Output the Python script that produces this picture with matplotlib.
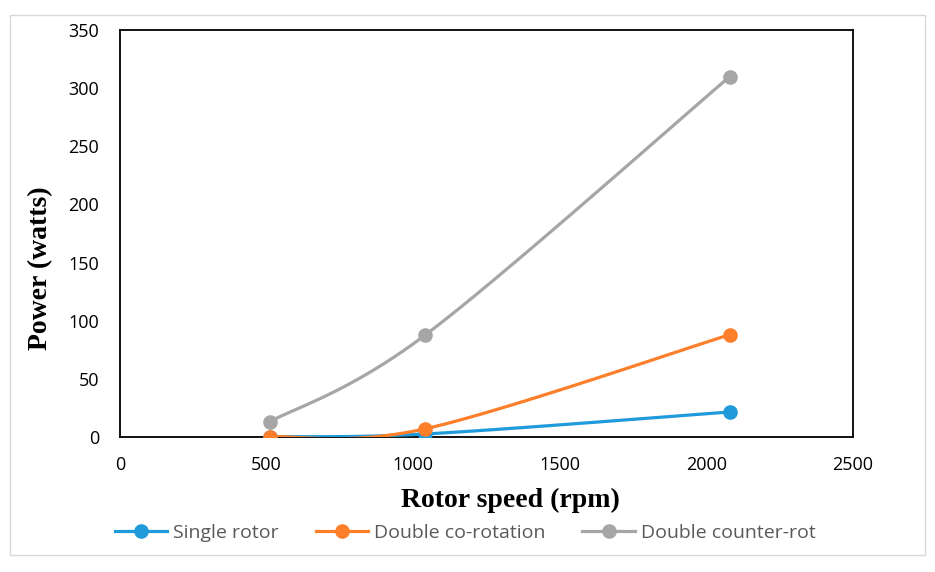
import numpy as np
import matplotlib
matplotlib.use("Agg")
import matplotlib.pyplot as plt
from matplotlib.patches import Rectangle

rpm = [510, 1040, 2080]
single_rotor = [0.3, 2.6, 21.5]
double_co = [0.3, 7.0, 88.0]
double_counter = [13.0, 87.5, 310.0]

series_names = ["Single rotor", "Double co-rotation", "Double counter-rot"]
colors = ["#1f9bdb", "#fd7f2a", "#a6a6a6"]
x_ticks = [0, 500, 1000, 1500, 2000, 2500]
y_ticks = [0, 50, 100, 150, 200, 250, 300, 350]


def smooth(x, y, n=40):
    # Excel-style smoothing (Catmull-Rom Bezier)
    x = np.asarray(x, float)
    y = np.asarray(y, float)
    P = np.column_stack([x, y])
    pts = []
    for i in range(len(P) - 1):
        p0 = P[i - 1] if i > 0 else P[i]
        p1 = P[i]
        p2 = P[i + 1]
        p3 = P[i + 2] if i + 2 < len(P) else P[i + 1]
        c1 = p1 + (p2 - p0) / 6.0
        c2 = p2 - (p3 - p1) / 6.0
        t = np.linspace(0, 1, n)[:, None]
        b = ((1 - t) ** 3) * p1 + 3 * ((1 - t) ** 2) * t * c1 + 3 * (1 - t) * t ** 2 * c2 + t ** 3 * p2
        pts.append(b if i == 0 else b[1:])
    B = np.vstack(pts)
    return B[:, 0], B[:, 1]


W, H = 935, 572
fig = plt.figure(figsize=(W / 100, H / 100), dpi=100)
fig.patches.append(Rectangle((10 / W, 1 - 555 / H), 915 / W, 540 / H,
                             transform=fig.transFigure, fill=False,
                             edgecolor="#d9d9d9", linewidth=1.0))
ax = fig.add_axes([120 / W, 1 - 437 / H, 733 / W, 407 / H])

tick_font = "Open Sans"
for vals, name, c in zip([single_rotor, double_co, double_counter], series_names, colors):
    xs, ys = smooth(rpm, vals)
    ax.plot(xs, ys, color=c, linewidth=2.3, solid_capstyle="round", zorder=3)
    ax.plot(rpm, vals, linestyle="none", marker="o", markersize=9.5, color=c, zorder=4)
    ax.plot([], [], color=c, linewidth=2.3, marker="o", markersize=9.5, label=name)

ax.set_xlim(0, 2500)
ax.set_ylim(0, 350)
ax.set_xticks(x_ticks)
ax.set_yticks(y_ticks)
ax.tick_params(length=0, labelsize=13, labelcolor="#000000")
ax.tick_params(axis="y", pad=15)
ax.tick_params(axis="x", pad=14)
for lab in ax.get_xticklabels() + ax.get_yticklabels():
    lab.set_family(tick_font)
for s in ax.spines.values():
    s.set_linewidth(1.3)
    s.set_color("#000000")

fig.text(510 / W, 1 - 500 / H, "Rotor speed (rpm)", fontsize=20, fontweight="bold",
         family="Liberation Serif", ha="center", va="center")
fig.text(41 / W, 1 - 268 / H, "Power (watts)", fontsize=20, fontweight="bold",
         family="Liberation Serif", ha="center", va="center", rotation=90)

leg = fig.legend(loc="center", bbox_to_anchor=(465 / W, 1 - 533 / H), ncol=3,
                 frameon=False, handlelength=2.7, columnspacing=1.9, handletextpad=0.3,
                 prop={"family": tick_font, "size": 14})
for t in leg.get_texts():
    t.set_color("#595959")

fig.savefig("out.png", dpi=100)
